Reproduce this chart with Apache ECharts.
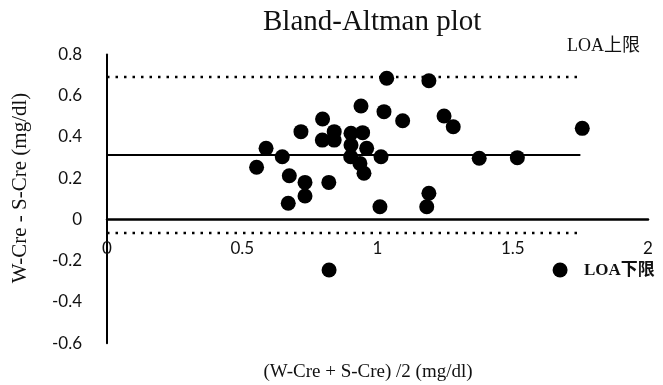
<!DOCTYPE html>
<html>
<head>
<meta charset="utf-8">
<script src="https://cdn.jsdelivr.net/npm/echarts@6/dist/echarts.min.js"></script>
<style>
  html, body { margin: 0; padding: 0; background: #fff; }
  #chart { width: 663px; height: 385px; }
</style>
</head>
<body>
<div id="chart"></div>
<script>
// 平均値 (W-Cre + S-Cre)/2
const meanValues = [
  1.034, 1.190, 0.939, 1.024, 1.093, 0.797, 0.717, 0.840, 0.796, 0.840,
  0.902, 0.945, 0.902, 0.960, 0.901, 1.013, 0.935, 0.950, 0.588, 0.648,
  0.553, 0.674, 0.732, 0.732, 0.820, 0.670, 1.009, 1.190, 1.182, 1.246,
  1.280, 1.757, 1.376, 1.517, 0.821, 1.675
];
// 差 W-Cre - S-Cre
const diffValues = [
  0.685, 0.673, 0.550, 0.523, 0.479, 0.487, 0.426, 0.426, 0.385, 0.385,
  0.418, 0.421, 0.361, 0.345, 0.304, 0.304, 0.272, 0.224, 0.345, 0.304,
  0.253, 0.212, 0.180, 0.114, 0.180, 0.079, 0.062, 0.127, 0.062, 0.502,
  0.450, 0.442, 0.297, 0.300, -0.245, -0.245
];
const bias = 0.313;
const upperLOA = 0.691;
const lowerLOA = -0.065;
const lineStart = 0;
const lineEnd = 1.75;

const xTicks = { min: 0, max: 2, interval: 0.5 };
const yTicks = { min: -0.6, max: 0.8, interval: 0.2 };

const serif = "'Liberation Serif', 'Noto Sans CJK SC', serif";
const sans = "Lato, 'Open Sans', sans-serif";

const points = meanValues.map((m, i) => [m, diffValues[i]]);

// グリッド（px）
const gridTop = 54.5;
const gridBottom = 41.75;
const plotH = 385 - gridTop - gridBottom;
// x軸を y=0 の位置へずらす
const zeroOffset = -plotH * (0 - yTicks.min) / (yTicks.max - yTicks.min);

const chart = echarts.init(document.getElementById("chart"));
chart.setOption({
  animation: false,
  backgroundColor: "#fff",
  title: {
    text: "Bland-Altman plot",
    left: 258,
    top: 3,
    textStyle: { fontFamily: serif, fontSize: 29, fontWeight: "normal", color: "#111" },
  },
  grid: { left: 107, right: 15, top: gridTop, bottom: gridBottom },
  xAxis: {
    type: "value",
    min: xTicks.min,
    max: xTicks.max,
    interval: xTicks.interval,
    position: "bottom",
    offset: zeroOffset,
    axisLine: { onZero: false, lineStyle: { color: "#000", width: 2.5 } },
    axisTick: { show: false },
    splitLine: { show: false },
    axisLabel: {
      margin: 21,
      fontFamily: sans,
      fontSize: 17,
      color: "#111",
      formatter: (v) => String(+v.toFixed(1)),
    },
  },
  yAxis: {
    type: "value",
    min: yTicks.min,
    max: yTicks.max,
    interval: yTicks.interval,
    axisLine: { show: true, onZero: true, lineStyle: { color: "#000", width: 2 } },
    axisTick: { show: false },
    splitLine: { show: false },
    axisLabel: {
      margin: 25,
      fontFamily: sans,
      fontSize: 17,
      color: "#111",
      formatter: (v) => String(+v.toFixed(1)),
    },
  },
  graphic: [
    {
      type: "text",
      left: 567,
      top: 37,
      style: { text: "LOA上限", font: "18px " + serif, fill: "#111" },
    },
    {
      type: "text",
      left: 584,
      top: 262,
      style: { text: "LOA下限", font: "bold 17px " + serif, fill: "#111" },
    },
    {
      type: "text",
      x: 20,
      y: 188,
      rotation: Math.PI / 2,
      style: {
        text: "W-Cre - S-Cre (mg/dl)",
        font: "21px " + serif,
        fill: "#111",
        align: "center",
        verticalAlign: "middle",
      },
    },
    {
      type: "text",
      x: 368,
      y: 372,
      style: {
        text: "(W-Cre + S-Cre) /2 (mg/dl)",
        font: "19px " + serif,
        fill: "#111",
        align: "center",
        verticalAlign: "middle",
      },
    },
  ],
  series: [
    {
      name: "bias",
      type: "line",
      symbol: "none",
      data: [[lineStart, bias], [lineEnd, bias]],
      lineStyle: { color: "#000", width: 2 },
      z: 2,
    },
    {
      name: "upper",
      type: "line",
      symbol: "none",
      data: [[lineStart, upperLOA], [lineEnd, upperLOA]],
      lineStyle: { color: "#000", width: 2.5, type: [2.5, 6] },
      z: 2,
    },
    {
      name: "lower",
      type: "line",
      symbol: "none",
      data: [[lineStart, lowerLOA], [lineEnd, lowerLOA]],
      lineStyle: { color: "#000", width: 2.5, type: [2.5, 6] },
      z: 2,
    },
    {
      name: "diff",
      type: "scatter",
      symbol: "circle",
      symbolSize: 15,
      itemStyle: { color: "#000", opacity: 1 },
      data: points,
      z: 3,
    },
  ],
});
</script>
</body>
</html>
